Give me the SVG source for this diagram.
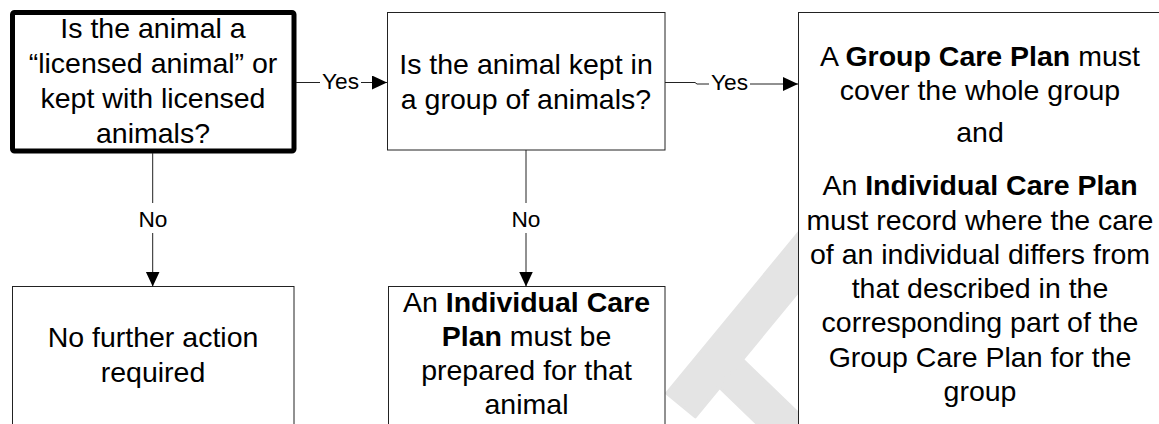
<svg xmlns="http://www.w3.org/2000/svg" width="1159" height="424" viewBox="0 0 1159 424">
<style>
.box{fill:#fff;stroke:#222;stroke-width:1}
.thick{fill:#fff;stroke:#000;stroke-width:5}
.t{font-family:"Liberation Sans",Arial,sans-serif;font-size:28.5px;fill:#000;text-anchor:middle}
.b{font-weight:bold}
.lbl{font-family:"Liberation Sans",Arial,sans-serif;font-size:22.7px;fill:#000;text-anchor:middle}
.c{fill:none;stroke:#222;stroke-width:1}
.wm{fill:#e4e4e4;stroke:#e4e4e4;stroke-width:3;stroke-linejoin:round}
</style>
<defs>
<marker id="ah" markerUnits="userSpaceOnUse" markerWidth="16" markerHeight="16" refX="15" refY="7" orient="auto"><path d="M0,0 L15,7 L0,14 Z" fill="#000"/></marker>
</defs>
<rect width="1159" height="424" fill="#fff"/>
<g id="watermark">
<polygon class="wm" points="801,230 829.6,253.5 695.3,416.8 666.7,393.3"/>
<polygon class="wm" points="743,360 829.4,443.3 804.4,469.2 718,386"/>
</g>
<g id="node-licensed">
<rect class="thick" x="12.5" y="12.5" width="281.5" height="138.5" rx="2"/>
<text class="t" x="153" y="38">Is the animal a</text>
<text class="t" x="153" y="73">“licensed animal” or</text>
<text class="t" x="153" y="108">kept with licensed</text>
<text class="t" x="153" y="143">animals?</text>
</g>
<g id="node-group">
<rect class="box" x="387.5" y="12.5" width="277.5" height="137.5"/>
<text class="t" x="526" y="73.5">Is the animal kept in</text>
<text class="t" x="526" y="108.5">a group of animals?</text>
</g>
<g id="node-groupplan">
<rect class="box" x="798.5" y="12.5" width="400" height="500"/>
<text class="t" x="980" y="66">A <tspan class="b">Group Care Plan</tspan> must</text>
<text class="t" x="980" y="100.3">cover the whole group</text>
<text class="t" x="980" y="142">and</text>
<text class="t" x="980" y="195.2">An <tspan class="b">Individual Care Plan</tspan></text>
<text class="t" x="980" y="229.5">must record where the care</text>
<text class="t" x="980" y="263.8">of an individual differs from</text>
<text class="t" x="980" y="298.1">that described in the</text>
<text class="t" x="980" y="332.4">corresponding part of the</text>
<text class="t" x="980" y="366.7">Group Care Plan for the</text>
<text class="t" x="980" y="401">group</text>
</g>
<g id="node-noaction">
<rect class="box" x="12.5" y="286.5" width="281.5" height="200"/>
<text class="t" x="153" y="347">No further action</text>
<text class="t" x="153" y="381.5">required</text>
</g>
<g id="node-individual">
<rect class="box" x="388.5" y="286.5" width="276.5" height="200"/>
<text class="t" x="526.5" y="311.5">An <tspan class="b">Individual Care</tspan></text>
<text class="t" x="526.5" y="345.5"><tspan class="b">Plan</tspan> must be</text>
<text class="t" x="526.5" y="379.5">prepared for that</text>
<text class="t" x="526.5" y="413.5">animal</text>
</g>
<g id="connectors">
<path class="c" d="M296,82.5 H320"/>
<path class="c" d="M361,82.5 H387" marker-end="url(#ah)"/>
<text class="lbl" x="340.5" y="88.5">Yes</text>
<path class="c" d="M665,82.5 H695 L697,84 H709"/>
<path class="c" d="M750,84 H798" marker-end="url(#ah)"/>
<text class="lbl" x="729.5" y="89.5">Yes</text>
<path class="c" d="M152.7,153 V203"/>
<path class="c" d="M152.7,233 V286.5" marker-end="url(#ah)"/>
<text class="lbl" x="153" y="226.5">No</text>
<path class="c" d="M526,150 V203"/>
<path class="c" d="M526,233 V286.5" marker-end="url(#ah)"/>
<text class="lbl" x="526" y="226.5">No</text>
</g>
</svg>
